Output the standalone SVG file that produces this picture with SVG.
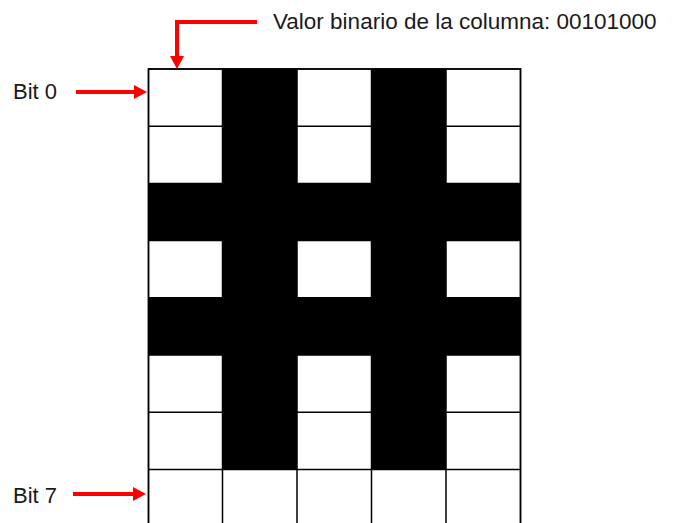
<svg xmlns="http://www.w3.org/2000/svg" width="673" height="523" viewBox="0 0 673 523">
<style>
.lbl{font-family:"Liberation Sans",Arial,sans-serif;font-size:22px;fill:#1a1a1a}
.cell{stroke:#000;stroke-width:1.5}
.w{fill:#fff}
.b{fill:#000}
.arr{stroke:#ff0000;stroke-width:4;fill:none}
.head{fill:#ff0000}
</style>
<rect width="673" height="523" fill="#fff"/>
<g id="grid">
<rect class="cell w" x="148.5" y="69" width="372" height="470"/>
<g id="black">
<rect class="b" x="222.5" y="69" width="74.5" height="400.4"/>
<rect class="b" x="371.5" y="69" width="74.5" height="400.4"/>
<rect class="b" x="148.5" y="183.4" width="372" height="57.2"/>
<rect class="b" x="148.5" y="297.8" width="372" height="57.2"/>
</g>
<g id="lines" stroke="#000" stroke-width="1.5">
<line x1="148.5" y1="126.2" x2="520.5" y2="126.2"/>
<line x1="148.5" y1="183.4" x2="520.5" y2="183.4"/>
<line x1="148.5" y1="240.6" x2="520.5" y2="240.6"/>
<line x1="148.5" y1="297.8" x2="520.5" y2="297.8"/>
<line x1="148.5" y1="355" x2="520.5" y2="355"/>
<line x1="148.5" y1="412.2" x2="520.5" y2="412.2"/>
<line x1="148.5" y1="469.4" x2="520.5" y2="469.4"/>
<line x1="222.5" y1="69" x2="222.5" y2="530"/>
<line x1="297" y1="69" x2="297" y2="530"/>
<line x1="371.5" y1="69" x2="371.5" y2="530"/>
<line x1="446" y1="69" x2="446" y2="530"/>
<rect x="148.5" y="69" width="372" height="470" fill="none"/>
</g>
</g>
<g id="connectors">
<polyline class="arr" points="257,22 177,22 177,58"/>
<polygon class="head" points="170,56 184,56 177,69"/>
<line class="arr" x1="76" y1="92" x2="136" y2="92"/>
<polygon class="head" points="134,85 134,99 147,92"/>
<line class="arr" x1="73" y1="494" x2="135" y2="494"/>
<polygon class="head" points="133,487 133,501 146,494"/>
</g>
<g id="label-top"><text class="lbl" x="273" y="28.5" style="font-size:22.5px">Valor binario de la columna: 00101000</text></g>
<g id="label-bit0"><text class="lbl" x="13" y="99">Bit 0</text></g>
<g id="label-bit7"><text class="lbl" x="13" y="503">Bit 7</text></g>
</svg>
